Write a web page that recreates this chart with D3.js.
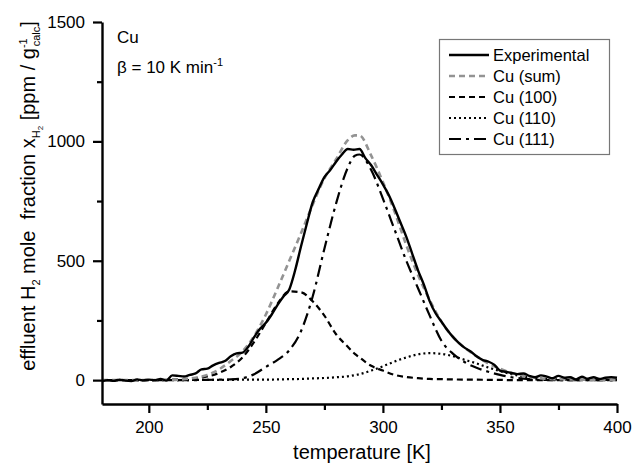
<!DOCTYPE html>
<html>
<head>
<meta charset="utf-8">
<script src="https://cdn.jsdelivr.net/npm/d3@7"></script>
<style>
  body { margin: 0; background: #fff; }
  text { font-family: "Liberation Sans", Arial, sans-serif; fill: #000; }
</style>
</head>
<body>
<svg id="chart" width="633" height="463"></svg>
<script>
// Measured experimental trace [K, ppm/g]
var expT = [180,182.5,185,187.5,190,192.5,195,197.5,200,202.5,205,207.5,210,212.5,215,217.5,220,222.5,225,227.5,230,232.5,235,237.5,240,242.5,245,247.5,250,252.5,255,257.5,260,262.5,265,267.5,270,272.5,275,277.5,280,282.5,285,287.5,290,292.5,295,297.5,300,302.5,305,307.5,310,312.5,315,317.5,320,322.5,325,327.5,330,332.5,335,337.5,340,342.5,345,347.5,350,352.5,355,357.5,360,362.5,365,367.5,370,372.5,375,377.5,380,382.5,385,387.5,390,392.5,395,397.5,400];
var expV = [-5,0,-3,2,-2,-4,3,-1,2,0,5,-2,20,18,15,22,28,45,48,62,72,80,100,112,115,140,180,215,240,275,315,350,380,460,560,655,745,800,850,880,915,945,968,965,968,930,900,860,820,775,720,660,600,530,460,400,330,280,245,210,180,155,135,120,100,85,78,65,40,35,30,25,28,18,12,20,15,8,18,10,12,3,14,6,12,5,10,12,10];

// Fitted curves
var fitT = [180,200,210,215,220,225,230,235,240,245,250,255,260,265,270,275,280,285,288,290,295,300,305,310,315,320,325,330,335,340,345,350,355,360,365,370,380,390,400];
var sumV = [0,0,1,4,10,22,45,80,120,185,275,385,500,615,735,845,925,1005,1025,1025,940,830,705,565,440,335,245,180,135,100,70,48,30,18,10,6,3,1,0];
var cu100V = [0,0,2,4,8,15,30,55,95,160,240,320,372,368,330,270,192,140,110,95,60,40,22,13,8,5,4,3,2,2,1,1,0,0,0,0,0,0,0];
var cu110V = [0,0,0,0,1,1,1,1,2,2,2,3,4,5,7,9,12,16,21,25,40,58,78,95,108,113,110,100,85,70,53,38,25,15,9,5,2,1,0];
var cu111V = [0,0,0,0,0,1,2,3,8,25,55,85,125,205,350,550,740,890,940,945,880,760,630,500,385,270,165,110,75,52,35,22,12,6,3,1,0,0,0];

var xTicks = [200,250,300,350,400];
var yTicks = [0,500,1000,1500];

var series = [
  {name: 'Experimental', t: expT, v: expV, color: '#000', width: 2.4, dash: null},
  {name: 'Cu (sum)', t: fitT, v: sumV, color: '#939393', width: 2.6, dash: '6,4'},
  {name: 'Cu (100)', t: fitT, v: cu100V, color: '#000', width: 2.2, dash: '6,4'},
  {name: 'Cu (110)', t: fitT, v: cu110V, color: '#000', width: 2.2, dash: '2,3'},
  {name: 'Cu (111)', t: fitT, v: cu111V, color: '#000', width: 2.2, dash: '12,5,3,5'}
];

var svg = d3.select('#chart');
var x = d3.scaleLinear().domain([180, 400]).range([102, 617]);
var y = d3.scaleLinear().domain([-100, 1500]).range([404, 22]);

// Curves, drawn back to front
var line = d3.line().x(d => x(d[0])).y(d => y(d[1])).curve(d3.curveMonotoneX);
series.slice().reverse().forEach(function(s) {
  svg.append('path')
    .datum(s.t.map((t, i) => [t, s.v[i]]))
    .attr('d', line)
    .attr('fill', 'none')
    .attr('stroke', s.color)
    .attr('stroke-width', s.width)
    .attr('stroke-dasharray', s.dash)
    .attr('stroke-linejoin', 'round');
});

// Axes: major and minor ticks
function styleAxis(g) {
  g.select('.domain').attr('stroke-width', 2.4);
  g.selectAll('.tick line').attr('stroke-width', 2.2);
  g.selectAll('text').attr('font-size', 17).attr('font-family', 'Liberation Sans, Arial, sans-serif');
}
var xMinor = svg.append('g').attr('transform', 'translate(0,404)')
  .call(d3.axisBottom(x).tickValues(d3.range(225, 400, 50)).tickSize(6).tickSizeOuter(0).tickFormat(''));
xMinor.select('.domain').remove();
xMinor.selectAll('.tick line').attr('stroke-width', 2.2);
var xAxis = svg.append('g').attr('transform', 'translate(0,404)')
  .call(d3.axisBottom(x).tickValues(xTicks).tickSize(9).tickSizeOuter(0).tickPadding(8).tickFormat(d3.format('d')));
styleAxis(xAxis);

var yMinor = svg.append('g').attr('transform', 'translate(102,0)')
  .call(d3.axisLeft(y).tickValues([250,750,1250]).tickSize(5).tickSizeOuter(0).tickFormat(''));
yMinor.select('.domain').remove();
yMinor.selectAll('.tick line').attr('stroke-width', 2.2);
var yAxis = svg.append('g').attr('transform', 'translate(102,0)')
  .call(d3.axisLeft(y).tickValues(yTicks).tickSize(9).tickSizeOuter(0).tickPadding(8).tickFormat(d3.format('d')));
styleAxis(yAxis);

// Axis titles
svg.append('text').attr('x', 362).attr('y', 459).attr('text-anchor', 'middle')
  .attr('font-size', 20).text('temperature [K]');

var yl = svg.append('text').attr('transform', 'translate(35,196) rotate(-90)')
  .attr('text-anchor', 'middle').attr('font-size', 20);
yl.append('tspan').text('effluent H');
yl.append('tspan').attr('font-size', 11).attr('dy', 5).text('2');
yl.append('tspan').attr('dy', -5).text(' mole\u00A0\u00A0fraction x');
yl.append('tspan').attr('font-size', 11).attr('dy', 5).text('H');
yl.append('tspan').attr('font-size', 8).attr('dy', 3).text('2');
yl.append('tspan').attr('dy', -8).text(' [ppm / g');
yl.append('tspan').attr('font-size', 11).attr('dy', -8).text('-1');
yl.append('tspan').attr('font-size', 11).attr('dx', -8).attr('dy', 13).text('calc');
yl.append('tspan').attr('dy', -5).text(']');

// Annotation
svg.append('text').attr('x', 117).attr('y', 43).attr('font-size', 17).text('Cu');
var beta = svg.append('text').attr('x', 117).attr('y', 73).attr('font-size', 17);
beta.append('tspan').text('\u03B2 = 10 K min');
beta.append('tspan').attr('font-size', 11).attr('dy', -7).text('-1');

// Legend
var legend = svg.append('g');
legend.append('rect').attr('x', 439.5).attr('y', 39.5).attr('width', 170).attr('height', 115)
  .attr('fill', '#fff').attr('stroke', '#777').attr('stroke-width', 1.2);
series.forEach(function(s, i) {
  var ly = 55 + i * 21;
  legend.append('line').attr('x1', 449).attr('x2', 489).attr('y1', ly).attr('y2', ly)
    .attr('stroke', s.color).attr('stroke-width', s.width).attr('stroke-dasharray', s.dash);
  legend.append('text').attr('x', 493).attr('y', ly + 6).attr('font-size', 16.5).text(s.name);
});
</script>
</body>
</html>
